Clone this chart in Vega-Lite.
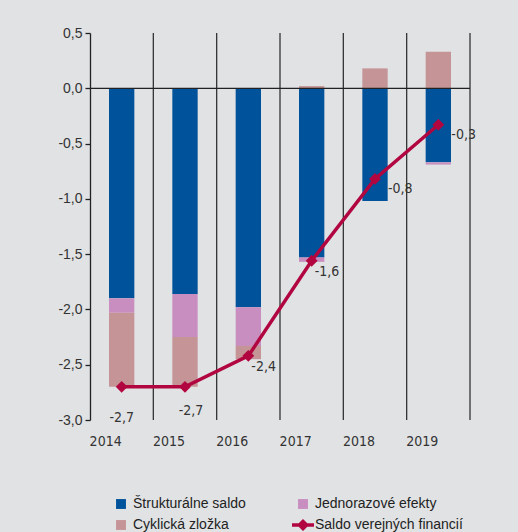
{
  "$schema": "https://vega.github.io/schema/vega-lite/v6.json",
  "width": 380,
  "height": 387,
  "autosize": {"type": "none"},
  "padding": {"left": 90, "top": 33, "right": 48, "bottom": 112},
  "background": "#e1e2e4",
  "config": {
    "locale": {"number": {"decimal": ",", "thousands": " ", "grouping": [3], "currency": ["", " €"], "minus": "-"}},
    "view": {"stroke": null},
    "font": "Liberation Sans"
  },
  "datasets": {
    "bars": [
      {"year": "2014", "component": "Štrukturálne saldo", "value": -1.90},
      {"year": "2014", "component": "Jednorazové efekty", "value": -0.13},
      {"year": "2014", "component": "Cyklická zložka", "value": -0.67},
      {"year": "2015", "component": "Štrukturálne saldo", "value": -1.86},
      {"year": "2015", "component": "Jednorazové efekty", "value": -0.39},
      {"year": "2015", "component": "Cyklická zložka", "value": -0.45},
      {"year": "2016", "component": "Štrukturálne saldo", "value": -1.98},
      {"year": "2016", "component": "Jednorazové efekty", "value": -0.35},
      {"year": "2016", "component": "Cyklická zložka", "value": -0.12},
      {"year": "2017", "component": "Štrukturálne saldo", "value": -1.53},
      {"year": "2017", "component": "Jednorazové efekty", "value": -0.04},
      {"year": "2017", "component": "Cyklická zložka", "value": 0.02},
      {"year": "2018", "component": "Štrukturálne saldo", "value": -1.02},
      {"year": "2018", "component": "Jednorazové efekty", "value": 0.0},
      {"year": "2018", "component": "Cyklická zložka", "value": 0.18},
      {"year": "2019", "component": "Štrukturálne saldo", "value": -0.67},
      {"year": "2019", "component": "Jednorazové efekty", "value": -0.02},
      {"year": "2019", "component": "Cyklická zložka", "value": 0.33}
    ],
    "saldo": [
      {"year": "2014", "component": "Saldo verejných financií", "value": -2.70},
      {"year": "2015", "component": "Saldo verejných financií", "value": -2.70},
      {"year": "2016", "component": "Saldo verejných financií", "value": -2.42},
      {"year": "2017", "component": "Saldo verejných financií", "value": -1.56},
      {"year": "2018", "component": "Saldo verejných financií", "value": -0.82},
      {"year": "2019", "component": "Saldo verejných financií", "value": -0.33}
    ],
    "years": [
      {"year": "2014"}, {"year": "2015"}, {"year": "2016"}, {"year": "2017"}, {"year": "2018"}, {"year": "2019"}
    ]
  },
  "layer": [
    {
      "data": {"name": "years"},
      "mark": {"type": "rule", "color": "#333333", "strokeWidth": 1.3},
      "encoding": {
        "x": {"field": "year", "type": "ordinal", "bandPosition": 1, "axis": {"title": null}}
      }
    },
    {
      "data": {"name": "bars"},
      "mark": {"type": "bar", "width": {"band": 0.4}},
      "encoding": {
        "x": {
          "field": "year", "type": "ordinal",
          "scale": {"paddingInner": 0, "paddingOuter": 0},
          "axis": {"title": null, "labelAngle": 0, "domain": false, "ticks": false, "grid": false, "labelPadding": 21, "labelFontSize": 14, "labelColor": "#333333", "labelFont": "Liberation Sans Narrow, DejaVu Sans Condensed, sans-serif"}
        },
        "y": {
          "field": "value", "type": "quantitative", "stack": "zero",
          "scale": {"domain": [-3, 0.5], "nice": false},
          "axis": {"title": null, "values": [-3, -2.5, -2, -1.5, -1, -0.5, 0, 0.5], "format": ".1f", "grid": false, "domainColor": "#222222", "domainWidth": 1.3, "tickColor": "#222222", "tickSize": 5, "tickWidth": 1.3, "labelPadding": 3, "labelFontSize": 14, "labelColor": "#333333"}
        },
        "color": {
          "field": "component", "type": "nominal",
          "sort": ["Štrukturálne saldo", "Jednorazové efekty", "Cyklická zložka", "Saldo verejných financií"],
          "scale": {
            "domain": ["Štrukturálne saldo", "Cyklická zložka", "Jednorazové efekty", "Saldo verejných financií"],
            "range": ["#00529b", "#c59496", "#c98ec0", "#b1063f"]
          },
          "legend": {
            "title": null,
            "orient": "none",
            "legendX": 20,
            "legendY": 460,
            "columns": 2,
            "columnPadding": 46,
            "rowPadding": 3,
            "padding": 0,
            "symbolSize": 484,
            "labelOffset": 1,
            "labelFontSize": 14,
            "labelColor": "#222222",
            "labelLimit": 300,
            "encode": {
              "symbols": {
                "update": {
                  "shape": {"signal": "datum.value === 'Saldo verejných financií' ? 'M-1,-0.15H1V0.15H-1Z M0,-0.55L0.55,0L0,0.55L-0.55,0Z' : 'M-0.45,-0.45H0.45V0.45H-0.45Z'"},
                  "fill": {"scale": "color", "field": "value"},
                  "strokeWidth": {"value": 0},
                  "opacity": {"value": 1}
                }
              }
            }
          }
        }
      }
    },
    {
      "data": {"values": [{"zero": 0}]},
      "mark": {"type": "rule", "color": "#222222", "strokeWidth": 1.3},
      "encoding": {
        "y": {"field": "zero", "type": "quantitative", "axis": {"title": null}}
      }
    },
    {
      "data": {"name": "saldo"},
      "mark": {"type": "line", "strokeWidth": 3.5, "point": {"shape": "diamond", "size": 140, "filled": true}},
      "encoding": {
        "x": {"field": "year", "type": "ordinal", "axis": {"title": null}},
        "y": {"field": "value", "type": "quantitative", "axis": {"title": null}},
        "color": {"field": "component", "type": "nominal"}
      }
    },
    {
      "data": {"name": "saldo"},
      "transform": [{"filter": "datum.year === '2014'"}],
      "mark": {"type": "text", "dy": 31, "fontSize": 14, "font": "Liberation Sans Narrow, DejaVu Sans Condensed, sans-serif", "color": "#333333"},
      "encoding": {
        "x": {"field": "year", "type": "ordinal", "axis": {"title": null}},
        "y": {"field": "value", "type": "quantitative", "axis": {"title": null}},
        "text": {"field": "value", "type": "quantitative", "format": ".1f"}
      }
    },
    {
      "data": {"name": "saldo"},
      "transform": [{"filter": "datum.year === '2015'"}],
      "mark": {"type": "text", "dy": 24, "dx": 6, "fontSize": 14, "font": "Liberation Sans Narrow, DejaVu Sans Condensed, sans-serif", "color": "#333333"},
      "encoding": {
        "x": {"field": "year", "type": "ordinal", "axis": {"title": null}},
        "y": {"field": "value", "type": "quantitative", "axis": {"title": null}},
        "text": {"field": "value", "type": "quantitative", "format": ".1f"}
      }
    },
    {
      "data": {"name": "saldo"},
      "transform": [{"filter": "datum.year === '2016' || datum.year === '2017'"}],
      "mark": {"type": "text", "align": "left", "dx": 3, "dy": 11, "fontSize": 14, "font": "Liberation Sans Narrow, DejaVu Sans Condensed, sans-serif", "color": "#333333"},
      "encoding": {
        "x": {"field": "year", "type": "ordinal", "axis": {"title": null}},
        "y": {"field": "value", "type": "quantitative", "axis": {"title": null}},
        "text": {"field": "value", "type": "quantitative", "format": ".1f"}
      }
    },
    {
      "data": {"name": "saldo"},
      "transform": [{"filter": "datum.year === '2018' || datum.year === '2019'"}],
      "mark": {"type": "text", "align": "left", "dx": 13, "dy": 10, "fontSize": 14, "font": "Liberation Sans Narrow, DejaVu Sans Condensed, sans-serif", "color": "#333333"},
      "encoding": {
        "x": {"field": "year", "type": "ordinal", "axis": {"title": null}},
        "y": {"field": "value", "type": "quantitative", "axis": {"title": null}},
        "text": {"field": "value", "type": "quantitative", "format": ".1f"}
      }
    }
  ]
}
